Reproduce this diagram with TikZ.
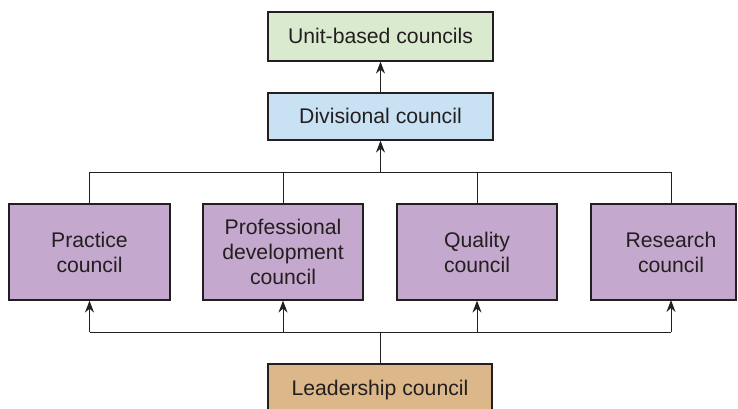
\documentclass[tikz,border=0pt]{standalone}
\usepackage{fontspec}
\setmainfont{Liberation Sans}
\usetikzlibrary{arrows.meta}
\definecolor{ink}{RGB}{35,31,32}
\definecolor{unitgreen}{RGB}{218,234,207}
\definecolor{divblue}{RGB}{200,226,244}
\definecolor{councilpurple}{RGB}{196,168,206}
\definecolor{leadtan}{RGB}{219,183,138}
\tikzset{
  box/.style={draw=ink, line width=1.2pt, inner sep=0pt, align=center,
    text=ink, font=\fontsize{21.2}{25}\selectfont},
  link/.style={draw=ink, line width=1pt},
  uparrow/.style={link, -{Stealth[length=12pt,width=9pt,inset=4pt]}},
}
\begin{document}
\begin{tikzpicture}[x=1pt,y=-1pt]
\useasboundingbox (0,0) rectangle (738,409);
\node[box, fill=unitgreen, minimum width=225pt, minimum height=49pt] (unit) at (380.5,36.5) {\raisebox{1pt}{Unit-based councils}};
\node[box, fill=divblue, minimum width=225pt, minimum height=47pt] (div) at (380.5,116.5) {\raisebox{1pt}{Divisional council}};
\node[box, fill=councilpurple, minimum width=161pt, minimum height=96pt] (prac) at (89.5,252) {Practice\\council};
\node[box, fill=councilpurple, minimum width=160pt, minimum height=96pt] (prof) at (283,252) {Professional\\development\\council};
\node[box, fill=councilpurple, minimum width=160pt, minimum height=96pt] (qual) at (477,252) {Quality\\council};
\node[box, fill=councilpurple, minimum width=145pt, minimum height=96pt] (res) at (663.5,252) {\hspace*{15pt}Research\\\hspace*{15pt}council};
\node[box, fill=leadtan, minimum width=224pt, minimum height=52pt] (lead) at (380,390) {\raisebox{2pt}{Leadership council}};

\coordinate (resN) at (671,204);
\coordinate (resS) at (671,300);
\coordinate (bt) at (380.5,172);
\coordinate (bb) at (380,332);

% top bus
\draw[link] (prac.north) -- (prac.north |- bt) -- (resN |- bt) -- (resN);
\draw[link] (prof.north) -- (prof.north |- bt);
\draw[link] (qual.north) -- (qual.north |- bt);
\draw[uparrow] (bt) -- (div.south);
\draw[uparrow] (div.north) -- (unit.south);

% bottom bus
\draw[link] (lead.north) -- (bb);
\draw[link] (prac.south |- bb) -- (resS |- bb);
\draw[uparrow] (prac.south |- bb) -- (prac.south);
\draw[uparrow] (prof.south |- bb) -- (prof.south);
\draw[uparrow] (qual.south |- bb) -- (qual.south);
\draw[uparrow] (resS |- bb) -- (resS);
\end{tikzpicture}
\end{document}
